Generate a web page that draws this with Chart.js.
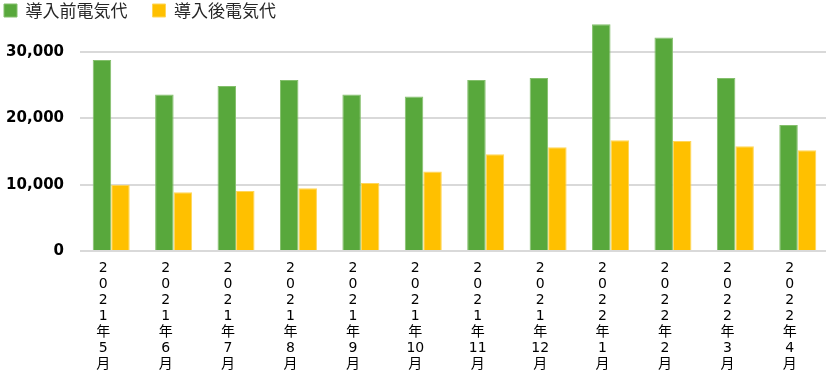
<!DOCTYPE html>
<html>
<head>
<meta charset="utf-8">
<script src="https://cdn.jsdelivr.net/npm/chart.js@4/dist/chart.umd.min.js"></script>
<style>
  html, body { margin: 0; padding: 0; background: #fff; overflow: hidden; width: 826px; height: 389px; }
  #wrap { position: absolute; left: -21px; top: -23px; width: 850px; height: 412px; }
</style>
</head>
<body>
<div id="wrap"><canvas id="c" width="850" height="412"></canvas></div>
<script>
const categories = [
  ['2','0','2','1','年','5','月'],
  ['2','0','2','1','年','6','月'],
  ['2','0','2','1','年','7','月'],
  ['2','0','2','1','年','8','月'],
  ['2','0','2','1','年','9','月'],
  ['2','0','2','1','年','10','月'],
  ['2','0','2','1','年','11','月'],
  ['2','0','2','1','年','12','月'],
  ['2','0','2','2','年','1','月'],
  ['2','0','2','2','年','2','月'],
  ['2','0','2','2','年','3','月'],
  ['2','0','2','2','年','4','月']
];
const seriesNames = ['導入前電気代', '導入後電気代'];
const beforeCost = [28800, 23600, 24900, 25800, 23600, 23300, 25800, 26100, 34200, 32200, 26100, 19000];
const afterCost  = [10000, 8850, 9050, 9450, 10250, 12000, 14600, 15650, 16700, 16600, 15800, 15200];
const yTicks = [0, 10000, 20000, 30000];
const yMin = 0;
const yMax = 35000;

const legendHeightPlugin = {
  id: 'legendHeight',
  beforeInit(chart) {
    const lg = chart.legend;
    if (!lg) return;
    const orig = lg.fit;
    lg.fit = function () { orig.call(this); this.height = 42; };
  }
};

new Chart(document.getElementById('c'), {
  type: 'bar',
  data: {
    labels: categories,
    datasets: [
      { label: seriesNames[0], data: beforeCost, backgroundColor: '#58a83c', borderColor: '#84bf6c', borderWidth: 1 },
      { label: seriesNames[1], data: afterCost, backgroundColor: '#ffc000', borderColor: '#ffd659', borderWidth: 1 }
    ]
  },
  options: {
    responsive: false,
    animation: false,
    layout: { padding: 0 },
    datasets: { bar: { categoryPercentage: 0.593, barPercentage: 1.0 } },
    plugins: {
      legend: {
        position: 'top',
        align: 'start',
        labels: {
          boxWidth: 13,
          boxHeight: 13,
          padding: 25,
          color: '#262626',
          font: { family: "'Noto Sans CJK JP', sans-serif", size: 17 }
        }
      },
      tooltip: { enabled: false }
    },
    scales: {
      x: {
        grid: { display: false, drawTicks: true, tickLength: 8 },
        border: { display: false },
        afterFit(s) { s.height = 138; },
        ticks: {
          color: '#000',
          padding: 1,
          labelOffset: -8,
          maxRotation: 0,
          autoSkip: false,
          font: { family: "'DejaVu Sans', 'Noto Sans CJK JP', sans-serif", size: 14, lineHeight: '16px' }
        }
      },
      y: {
        min: yMin,
        max: yMax,
        afterFit(s) { s.width = 101; },
        afterBuildTicks(s) { s.ticks = yTicks.map(v => ({ value: v })); },
        border: { display: false },
        grid: { color: '#d9d9d9', lineWidth: 2, drawTicks: false },
        ticks: {
          padding: 16,
          color: '#000',
          font: { family: "'DejaVu Sans', sans-serif", size: 15, weight: 'bold' },
          callback: v => v.toLocaleString('en-US')
        }
      }
    }
  },
  plugins: [legendHeightPlugin]
});
</script>
</body>
</html>
